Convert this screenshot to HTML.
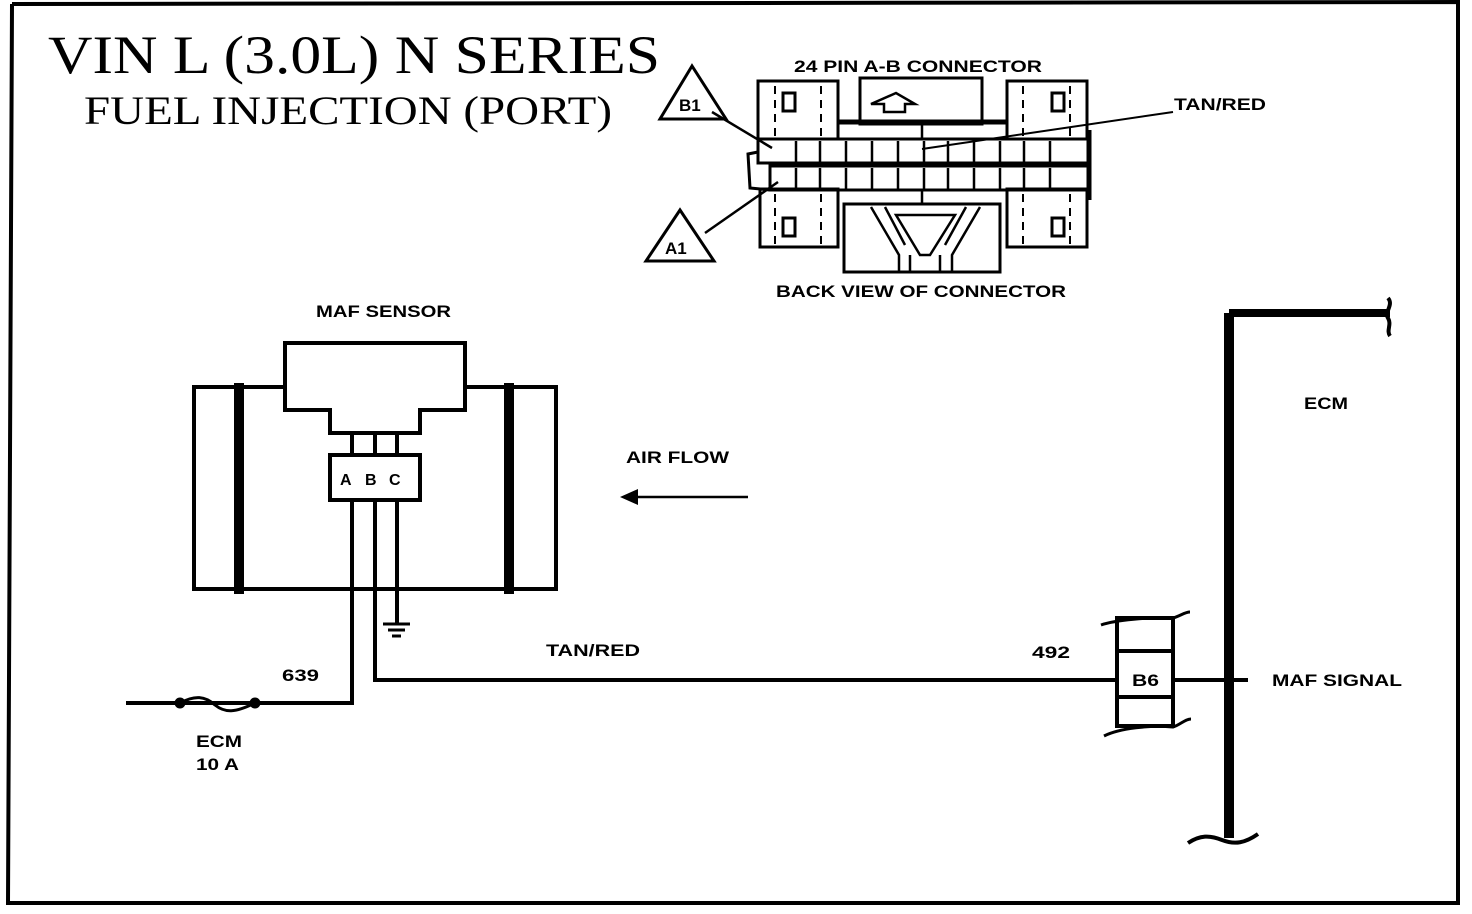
<!DOCTYPE html>
<html><head><style>html,body{margin:0;padding:0;background:#fff}svg{display:block}</style></head>
<body>
<svg width="1472" height="914" viewBox="0 0 1472 914" xmlns="http://www.w3.org/2000/svg">
<rect width="1472" height="914" fill="#fff"/>
<g fill="none" stroke="#000">
<polyline points="12,4 1458,2 1458,903 8,903 12,4" stroke-width="4"/>
<g stroke-width="3">
<rect x="758" y="81" width="80" height="58"/>
<rect x="1007" y="81" width="80" height="58"/>
<rect x="860" y="78" width="122" height="46"/>
<line x1="838" y1="122" x2="1007" y2="122" stroke-width="5"/>
<rect x="758" y="139" width="330" height="24"/>
<rect x="770" y="166" width="318" height="24"/>
<rect x="760" y="189" width="78" height="58"/>
<rect x="1007" y="189" width="80" height="58"/>
<rect x="844" y="204" width="156" height="68"/>
<polyline points="758,152 748,154 750,188 770,190"/>
<line x1="1090" y1="130" x2="1090" y2="200"/>
</g>
<g stroke-width="2" stroke-dasharray="8,6">
<line x1="775" y1="86" x2="775" y2="136"/><line x1="821" y1="86" x2="821" y2="136"/>
<line x1="1023" y1="86" x2="1023" y2="136"/><line x1="1070" y1="86" x2="1070" y2="136"/>
<line x1="775" y1="194" x2="775" y2="244"/><line x1="821" y1="194" x2="821" y2="244"/>
<line x1="1023" y1="194" x2="1023" y2="244"/><line x1="1070" y1="194" x2="1070" y2="244"/>
</g>
<g stroke-width="3">
<rect x="783" y="93" width="12" height="18"/><rect x="1052" y="93" width="12" height="18"/>
<rect x="783" y="218" width="12" height="18"/><rect x="1052" y="218" width="12" height="18"/>
<path d="M871,104 L896,93 L915,104 L905,104 L905,112 L884,112 L884,104 Z" stroke-width="2.5"/>
</g>
<g stroke-width="2.5">
<line x1="796" y1="141" x2="796" y2="162"/><line x1="820" y1="141" x2="820" y2="162"/><line x1="846" y1="141" x2="846" y2="162"/><line x1="872" y1="141" x2="872" y2="162"/><line x1="898" y1="141" x2="898" y2="162"/><line x1="924" y1="141" x2="924" y2="162"/><line x1="948" y1="141" x2="948" y2="162"/><line x1="974" y1="141" x2="974" y2="162"/><line x1="1000" y1="141" x2="1000" y2="162"/><line x1="1024" y1="141" x2="1024" y2="162"/><line x1="1050" y1="141" x2="1050" y2="162"/>
<line x1="796" y1="168" x2="796" y2="189"/><line x1="820" y1="168" x2="820" y2="189"/><line x1="846" y1="168" x2="846" y2="189"/><line x1="872" y1="168" x2="872" y2="189"/><line x1="898" y1="168" x2="898" y2="189"/><line x1="924" y1="168" x2="924" y2="189"/><line x1="948" y1="168" x2="948" y2="189"/><line x1="974" y1="168" x2="974" y2="189"/><line x1="1000" y1="168" x2="1000" y2="189"/><line x1="1024" y1="168" x2="1024" y2="189"/><line x1="1050" y1="168" x2="1050" y2="189"/>
<line x1="922" y1="124" x2="922" y2="140"/><line x1="922" y1="190" x2="922" y2="204"/>
<path d="M871,207 L899,255 L899,272 M885,207 L905,245 M980,207 L952,255 L952,272 M966,207 L945,245 M896,215 L955,215 L930,255 L920,255 Z M910,255 L910,272 M940,255 L940,272"/>
</g>
<g stroke-width="3">
<polygon points="692,66 660,119 726,119"/>
<polygon points="680,210 646,261 714,261"/>
<line x1="712" y1="112" x2="772" y2="148" stroke-width="2.5"/>
<line x1="705" y1="233" x2="778" y2="182" stroke-width="2.5"/>
<line x1="1173" y1="112" x2="922" y2="149" stroke-width="2"/>
</g>
<g stroke-width="4">
<rect x="194" y="387" width="362" height="202"/>
<path d="M330,433 L330,410 L285,410 L285,343 L465,343 L465,410 L420,410 L420,433 Z" fill="#fff"/>
<rect x="330" y="455" width="90" height="45" fill="#fff"/>
<line x1="352" y1="433" x2="352" y2="455"/><line x1="375" y1="433" x2="375" y2="455"/><line x1="397" y1="433" x2="397" y2="455"/>
<line x1="239" y1="383" x2="239" y2="594" stroke-width="10"/>
<line x1="509" y1="383" x2="509" y2="594" stroke-width="10"/>
<polyline points="352,500 352,703 126,703"/>
<polyline points="375,500 375,680 1117,680"/>
<line x1="397" y1="500" x2="397" y2="624"/>
<line x1="383" y1="624" x2="410" y2="624" stroke-width="3"/>
<line x1="388" y1="630" x2="405" y2="630" stroke-width="3"/>
<line x1="392" y1="636" x2="401" y2="636" stroke-width="3"/>
</g>
<path d="M180,703 C195,695 205,696 215,705 C225,713 235,713 255,703" stroke-width="3"/>
<circle cx="180" cy="703" r="5" fill="#000"/><circle cx="255" cy="703" r="5" fill="#000"/>
<line x1="632" y1="497" x2="748" y2="497" stroke-width="2.5"/>
<polygon points="620,497 638,489 638,505" fill="#000" stroke="none"/>
<g stroke-width="4">
<rect x="1117" y="618" width="56" height="108"/>
<line x1="1117" y1="651" x2="1173" y2="651"/><line x1="1117" y1="697" x2="1173" y2="697"/>
<path d="M1101,625 C1115,620 1150,617 1173,618 C1180,616 1185,612 1190,612" stroke-width="3"/>
<path d="M1104,736 C1120,728 1150,725 1173,727 C1180,725 1185,719 1191,719" stroke-width="3"/>
<line x1="1173" y1="680" x2="1248" y2="680"/>
<line x1="1229" y1="313" x2="1229" y2="838" stroke-width="10"/>
<line x1="1229" y1="313" x2="1390" y2="313" stroke-width="8"/>
<path d="M1388,298 C1394,305 1384,312 1388,318 C1392,325 1386,330 1390,336" stroke-width="4"/>
<path d="M1188,843 C1200,835 1210,835 1222,840 C1235,845 1245,843 1258,834" stroke-width="4"/>
</g>
</g>
<g font-family="Liberation Serif, serif" fill="#000">
<text x="48" y="73" font-size="54" textLength="612" lengthAdjust="spacingAndGlyphs">VIN L (3.0L) N SERIES</text>
<text x="84" y="124" font-size="40" textLength="528" lengthAdjust="spacingAndGlyphs">FUEL INJECTION (PORT)</text>
</g>
<g font-family="Liberation Sans, sans-serif" font-weight="bold" fill="#000" font-size="17">
<text x="794" y="72" textLength="248" lengthAdjust="spacingAndGlyphs">24 PIN A-B CONNECTOR</text>
<text x="1174" y="110" textLength="92" lengthAdjust="spacingAndGlyphs">TAN/RED</text>
<text x="776" y="297" textLength="290" lengthAdjust="spacingAndGlyphs">BACK VIEW OF CONNECTOR</text>
<text x="679" y="111" font-size="17">B1</text>
<text x="665" y="254" font-size="17">A1</text>
<text x="316" y="317" textLength="135" lengthAdjust="spacingAndGlyphs">MAF SENSOR</text>
<text x="340" y="485" font-size="16">A</text><text x="365" y="485" font-size="16">B</text><text x="389" y="485" font-size="16">C</text>
<text x="626" y="463" textLength="103" lengthAdjust="spacingAndGlyphs">AIR FLOW</text>
<text x="546" y="656" textLength="94" lengthAdjust="spacingAndGlyphs">TAN/RED</text>
<text x="1032" y="658" textLength="38" lengthAdjust="spacingAndGlyphs">492</text>
<text x="282" y="681" textLength="37" lengthAdjust="spacingAndGlyphs">639</text>
<text x="196" y="747" textLength="46" lengthAdjust="spacingAndGlyphs">ECM</text>
<text x="196" y="770" textLength="43" lengthAdjust="spacingAndGlyphs">10 A</text>
<text x="1132" y="686" textLength="27" lengthAdjust="spacingAndGlyphs">B6</text>
<text x="1304" y="409" textLength="44" lengthAdjust="spacingAndGlyphs">ECM</text>
<text x="1272" y="686" textLength="130" lengthAdjust="spacingAndGlyphs">MAF SIGNAL</text>
</g>
</svg>
</body></html>
